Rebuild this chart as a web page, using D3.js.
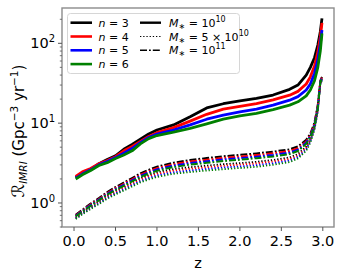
<!DOCTYPE html>
<html>
<head>
<meta charset="utf-8">
<script src="https://cdn.jsdelivr.net/npm/d3@7"></script>
<style>
  body { margin: 0; background: #fff; }
  text { font-family: 'DejaVu Sans', sans-serif; }
</style>
</head>
<body>
<svg id="chart" width="342" height="274"></svg>
<script>
// redshift grid
const z = [0.02, 0.1, 0.2, 0.3, 0.4, 0.5, 0.6, 0.7, 0.8, 0.9, 1.0, 1.2, 1.4, 1.6, 1.8,
           2.0, 2.2, 2.4, 2.6, 2.7, 2.8, 2.85, 2.9, 2.94, 2.97, 2.99]

// M* = 1e10 (solid)
const n3_m10 = [2.10, 2.35, 2.62, 3.10, 3.50, 3.90, 4.70, 5.40, 6.30, 7.30, 8.20, 9.50, 12.0, 15.5, 17.5,
                19.0, 20.4, 22.5, 26.5, 30.0, 40.0, 50.0, 66.0, 95.0, 140, 205]
const n4_m10 = [2.15, 2.45, 2.70, 3.10, 3.40, 3.80, 4.50, 5.10, 5.90, 6.80, 7.60, 8.80, 10.6, 12.9, 15.0,
                16.2, 17.6, 19.6, 22.4, 25.0, 31.0, 38.0, 52.0, 78.0, 120, 180]
const n5_m10 = [2.05, 2.30, 2.60, 3.00, 3.30, 3.70, 4.20, 4.80, 5.70, 6.60, 7.30, 8.20, 9.50, 11.2, 12.6,
                13.8, 15.0, 16.8, 19.4, 21.5, 26.0, 31.0, 42.0, 62.0, 98.0, 147]
const n6_m10 = [2.00, 2.25, 2.55, 2.95, 3.20, 3.60, 4.00, 4.50, 5.50, 6.40, 7.00, 7.70, 8.60, 9.80, 11.2,
                12.3, 13.3, 14.8, 16.8, 18.5, 22.0, 26.0, 34.0, 50.0, 80.0, 133]

// M* = 5e10 (dotted)
const n3_m5 = [0.66, 0.76, 0.90, 1.05, 1.24, 1.42, 1.60, 1.81, 2.05, 2.24, 2.42, 2.66, 2.81, 2.94, 3.06,
               3.16, 3.28, 3.46, 3.72, 4.10, 5.10, 6.30, 9.00, 15.0, 32.0, 36.0]
const n4_m5 = [0.65, 0.75, 0.88, 1.02, 1.20, 1.37, 1.54, 1.74, 1.96, 2.14, 2.31, 2.54, 2.68, 2.80, 2.92,
               3.02, 3.13, 3.31, 3.56, 3.93, 4.90, 6.10, 8.80, 14.7, 31.5, 35.5]
const n5_m5 = [0.64, 0.73, 0.86, 0.99, 1.16, 1.32, 1.48, 1.67, 1.88, 2.05, 2.21, 2.42, 2.55, 2.67, 2.78,
               2.87, 2.98, 3.15, 3.40, 3.76, 4.70, 5.90, 8.50, 14.4, 31.0, 35.0]
const n6_m5 = [0.63, 0.72, 0.84, 0.97, 1.13, 1.28, 1.43, 1.61, 1.81, 1.97, 2.12, 2.32, 2.44, 2.55, 2.65,
               2.74, 2.84, 3.01, 3.25, 3.60, 4.50, 5.70, 8.30, 14.1, 30.5, 34.5]

// M* = 1e11 (dash-dot)
const n3_m11 = [0.71, 0.82, 0.98, 1.15, 1.37, 1.58, 1.80, 2.05, 2.35, 2.60, 2.85, 3.20, 3.45, 3.65, 3.85,
                4.00, 4.18, 4.40, 4.70, 5.10, 6.20, 7.40, 10.2, 17.0, 34.0, 38.0]
const n4_m11 = [0.70, 0.80, 0.96, 1.12, 1.33, 1.53, 1.74, 1.98, 2.26, 2.50, 2.73, 3.06, 3.30, 3.48, 3.67,
                3.81, 3.98, 4.19, 4.48, 4.87, 5.90, 7.10, 9.90, 16.5, 33.5, 37.5]
const n5_m11 = [0.69, 0.79, 0.94, 1.10, 1.30, 1.49, 1.69, 1.92, 2.18, 2.41, 2.63, 2.94, 3.16, 3.33, 3.51,
                3.64, 3.80, 4.00, 4.28, 4.66, 5.70, 6.90, 9.60, 16.0, 33.0, 37.0]
const n6_m11 = [0.68, 0.78, 0.92, 1.08, 1.27, 1.45, 1.64, 1.86, 2.11, 2.33, 2.53, 2.82, 3.02, 3.18, 3.35,
                3.48, 3.64, 3.83, 4.10, 4.47, 5.50, 6.70, 9.30, 15.5, 32.5, 36.5]

const nLabels = ['3', '4', '5', '6']
const nColors = ['black', 'red', 'blue', 'green']
const xTicks = [0.0, 0.5, 1.0, 1.5, 2.0, 2.5, 3.0]
const yTicks = [1, 10, 100]

const pLeft = 62, pRight = 334, pTop = 8, pBottom = 227
let svg = d3.select('#chart')

let xScale = d3.scaleLinear().domain([-0.145, 3.135]).range([pLeft, pRight])
let yScale = d3.scaleLog().domain([0.5, 277]).range([pBottom, pTop])

let line = d3.line()
    .x((d, i) => xScale(z[i]))
    .y(d => yScale(d))

// dash patterns
const dotted = '1.3,1.9'
const dashdot = '7,2,1.8,2'

let plot = svg.append('g')
const lower = [
    [n3_m5, n4_m5, n5_m5, n6_m5],
    [n3_m11, n4_m11, n5_m11, n6_m11]
]
lower[0].forEach((s, i) => {
    plot.append('path').attr('d', line(s))
        .attr('fill', 'none').attr('stroke', nColors[i])
        .attr('stroke-width', 1.8).attr('stroke-dasharray', dotted)
})
lower[1].forEach((s, i) => {
    plot.append('path').attr('d', line(s))
        .attr('fill', 'none').attr('stroke', nColors[i])
        .attr('stroke-width', 2).attr('stroke-dasharray', dashdot)
})
;[n3_m10, n4_m10, n5_m10, n6_m10].forEach((s, i) => {
    plot.append('path').attr('d', line(s))
        .attr('fill', 'none').attr('stroke', nColors[i])
        .attr('stroke-width', 2.8).attr('stroke-linejoin', 'round')
})

// frame
svg.append('rect')
    .attr('x', pLeft).attr('y', pTop)
    .attr('width', pRight - pLeft).attr('height', pBottom - pTop)
    .attr('fill', 'none').attr('stroke', '#8c8c8c').attr('stroke-width', 1.4)

// x axis
let xAxis = svg.append('g')
xTicks.forEach(t => {
    let x = xScale(t)
    xAxis.append('line').attr('x1', x).attr('x2', x)
        .attr('y1', pBottom).attr('y2', pBottom + 4)
        .attr('stroke', '#555').attr('stroke-width', 1)
    xAxis.append('text').attr('x', x).attr('y', pBottom + 18.5)
        .attr('text-anchor', 'middle').style('font-size', '14.5px')
        .text(t.toFixed(1))
})

// y axis, major + minor ticks
let yAxis = svg.append('g')
yTicks.forEach(t => {
    let y = yScale(t)
    yAxis.append('line').attr('x1', pLeft - 4).attr('x2', pLeft)
        .attr('y1', y).attr('y2', y).attr('stroke', '#555').attr('stroke-width', 1)
    let lbl = yAxis.append('text').attr('x', pLeft - 7).attr('y', y + 5)
        .attr('text-anchor', 'end').style('font-size', '14.5px')
    lbl.append('tspan').text('10')
    lbl.append('tspan').attr('dy', -6).style('font-size', '10px')
        .text(Math.round(Math.log10(t)))
})
let minor = []
;[0.1, 1, 10, 100].forEach(d => {
    for (let k = 2; k <= 9; k++) {
        let v = k * d
        if (v >= 0.5 && v <= 277) minor.push(v)
    }
})
minor.forEach(v => {
    let y = yScale(v)
    yAxis.append('line').attr('x1', pLeft - 2.2).attr('x2', pLeft)
        .attr('y1', y).attr('y2', y).attr('stroke', '#555').attr('stroke-width', 0.8)
})

// axis labels
svg.append('text').attr('x', 198).attr('y', 268)
    .attr('text-anchor', 'middle').style('font-size', '14.5px').text('z')

let yl = svg.append('text')
    .attr('transform', 'translate(24, 131) rotate(-90)')
    .attr('text-anchor', 'middle').style('font-size', '15px')
yl.append('tspan').style('font-style', 'italic').style('font-size', '17px').text('ℛ')
yl.append('tspan').attr('dy', 3).style('font-size', '10.5px').style('font-style', 'italic').text('IMRI')
yl.append('tspan').attr('dy', -3).text(' (Gpc')
yl.append('tspan').attr('dy', -6).style('font-size', '10.5px').text('−3')
yl.append('tspan').attr('dy', 6).text(' yr')
yl.append('tspan').attr('dy', -6).style('font-size', '10.5px').text('−1')
yl.append('tspan').attr('dy', 6).text(')')

// legend
let legend = svg.append('g')
legend.append('rect')
    .attr('x', 67.5).attr('y', 13.5).attr('width', 172).attr('height', 60)
    .attr('rx', 3).attr('fill', 'white').attr('fill-opacity', 0.85)
    .attr('stroke', '#d6d6d6').attr('stroke-width', 1)
const rowY = [22.7, 36.5, 50.3, 64.1]
nLabels.forEach((n, i) => {
    legend.append('line').attr('x1', 70.5).attr('x2', 92)
        .attr('y1', rowY[i]).attr('y2', rowY[i])
        .attr('stroke', nColors[i]).attr('stroke-width', 2.6)
    let t = legend.append('text').attr('x', 98.5).attr('y', rowY[i] + 4)
        .style('font-size', '11px')
    t.append('tspan').style('font-style', 'italic').text('n')
    t.append('tspan').text(' = ' + n)
})
const mStyles = [null, dotted, dashdot]
const mWidths = [2.4, 1.2, 1.6]
const mText = [['', '10'], ['5 × ', '10'], ['', '11']]
mStyles.forEach((st, i) => {
    let l = legend.append('line').attr('x1', 140).attr('x2', 161)
        .attr('y1', rowY[i]).attr('y2', rowY[i])
        .attr('stroke', 'black').attr('stroke-width', mWidths[i])
    if (st) l.attr('stroke-dasharray', st)
    let t = legend.append('text').attr('x', 169).attr('y', rowY[i] + 4)
        .style('font-size', '11px')
    t.append('tspan').style('font-style', 'italic').text('M')
    t.append('tspan').attr('dy', 2).style('font-size', '8px').text('∗')
    t.append('tspan').attr('dy', -2).text(' = ' + mText[i][0] + '10')
    t.append('tspan').attr('dy', -5).style('font-size', '8px').text(mText[i][1])
})
</script>
</body>
</html>
